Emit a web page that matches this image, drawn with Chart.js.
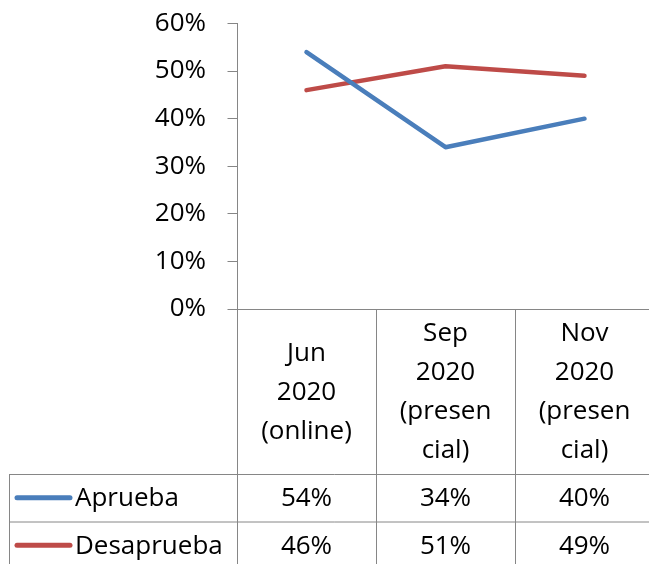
<!DOCTYPE html>
<html>
<head>
<meta charset="utf-8">
<script src="https://cdn.jsdelivr.net/npm/chart.js@4/dist/chart.umd.min.js"></script>
<style>
html,body{margin:0;padding:0;background:#fff;overflow:hidden;width:649px;height:564px;}
canvas{display:block;}
</style>
</head>
<body>
<canvas id="c" width="660" height="564" style="width:660px;height:564px"></canvas>
<script>
const categories = [["Jun","2020","(online)"],["Sep","2020","(presen","cial)"],["Nov","2020","(presen","cial)"]];
const seriesNames = ["Aprueba","Desaprueba"];
const aprueba = [54, 34, 40];
const desaprueba = [46, 51, 49];
const seriesColors = ["#4A7EBB", "#BE4B48"];
const yMin = 0, yMax = 60, yStep = 10;

const FONT = "'Open Sans', Lato, sans-serif";
const FONT_SIZE = 26;
const GRID = "#868686";

const tablePlugin = {
  id: 'tablePlugin',
  afterDraw(chart) {
    const ctx = chart.ctx;
    const x = chart.scales.x;
    const area = chart.chartArea;
    const n = categories.length;
    const step = x.getPixelForValue(1) - x.getPixelForValue(0);
    const half = step / 2;
    const tableTop = 474, rowH = 47.5, tableLeft = 9.5;
    const bottom = chart.height;
    ctx.save();
    ctx.strokeStyle = GRID;
    ctx.lineWidth = 1;
    ctx.beginPath();
    for (let i = 0; i <= n; i++) {
      const bx = Math.round((i < n ? x.getPixelForValue(i) - half : x.getPixelForValue(n - 1) + half)) + 0.5;
      ctx.moveTo(bx, area.bottom);
      ctx.lineTo(bx, bottom);
    }
    ctx.moveTo(tableLeft, tableTop);
    ctx.lineTo(tableLeft, bottom);
    ctx.moveTo(tableLeft, tableTop + 0.5);
    ctx.lineTo(chart.width, tableTop + 0.5);
    ctx.moveTo(tableLeft, tableTop + rowH + 0.5);
    ctx.lineTo(chart.width, tableTop + rowH + 0.5);
    ctx.stroke();

    ctx.fillStyle = "#000";
    ctx.font = FONT_SIZE + "px " + FONT;
    ctx.textAlign = "center";
    ctx.textBaseline = "middle";
    const labCenter = (area.bottom + tableTop) / 2;
    const lh = 39;
    categories.forEach((lines, i) => {
      const cx = x.getPixelForValue(i);
      lines.forEach((t, j) => {
        ctx.fillText(t, cx, labCenter + (j - (lines.length - 1) / 2) * lh + 1);
      });
    });
    const series = [aprueba, desaprueba];
    series.forEach((vals, r) => {
      const cy = tableTop + rowH * r + rowH / 2 + 1;
      vals.forEach((v, i) => {
        ctx.textAlign = "center";
        ctx.fillText(v + "%", x.getPixelForValue(i), cy);
      });
      ctx.strokeStyle = seriesColors[r];
      ctx.lineWidth = 5;
      ctx.lineCap = "round";
      ctx.beginPath();
      ctx.moveTo(17, cy - 1);
      ctx.lineTo(70, cy - 1);
      ctx.stroke();
      ctx.textAlign = "left";
      ctx.fillText(seriesNames[r], 75, cy);
    });
    ctx.restore();
  }
};

function build() {
  new Chart(document.getElementById('c'), {
    type: 'line',
    data: {
      labels: categories,
      datasets: [
        { label: seriesNames[0], data: aprueba, borderColor: seriesColors[0], backgroundColor: seriesColors[0], borderWidth: 4.5, pointRadius: 0, tension: 0, borderCapStyle: 'round', borderJoinStyle: 'round' },
        { label: seriesNames[1], data: desaprueba, borderColor: seriesColors[1], backgroundColor: seriesColors[1], borderWidth: 4.5, pointRadius: 0, tension: 0, borderCapStyle: 'round', borderJoinStyle: 'round' }
      ]
    },
    options: {
      responsive: false,
      animation: false,
      devicePixelRatio: 1,
      layout: { padding: { top: 23.5, right: 6, left: 0, bottom: 0 } },
      plugins: { legend: { display: false }, tooltip: { enabled: false } },
      scales: {
        x: {
          type: 'category',
          offset: true,
          ticks: { display: false },
          grid: { display: false },
          border: { display: true, color: GRID, width: 1 },
          afterFit(scale) { scale.height = 255; }
        },
        y: {
          min: yMin, max: yMax,
          ticks: { stepSize: yStep, color: '#000', padding: 21.5, font: { family: FONT, size: FONT_SIZE }, callback: v => v + '%' },
          grid: { drawOnChartArea: false, drawTicks: true, tickLength: 9.5, color: GRID, tickWidth: 1 },
          border: { display: true, color: GRID, width: 1 },
          afterFit(scale) { scale.width = 237; scale.paddingTop = 0; scale.paddingBottom = 0; }
        }
      }
    },
    plugins: [tablePlugin]
  });
}
if (document.fonts && document.fonts.load) {
  document.fonts.load(FONT_SIZE + "px 'Open Sans'").then(build, build);
} else { build(); }
</script>
</body>
</html>
